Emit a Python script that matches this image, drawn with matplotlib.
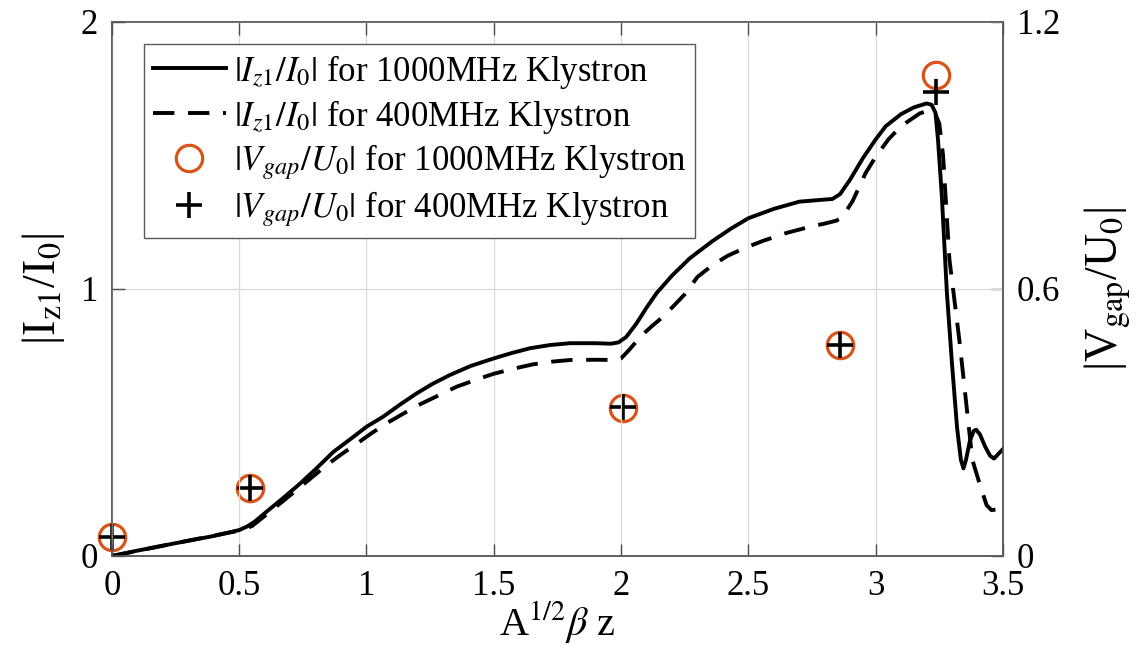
import numpy as np
import matplotlib
matplotlib.use('Agg')
import matplotlib.pyplot as plt

plt.rcParams['font.family'] = 'Liberation Serif'
plt.rcParams['mathtext.fontset'] = 'stix'

# |Iz1/I0| for 1000 MHz klystron (solid)
x_1000 = [0, 0.1, 0.25, 0.4, 0.5, 0.53, 0.56, 0.6, 0.67, 0.74, 0.8, 0.87, 0.94, 1.0, 1.066,
          1.13, 1.197, 1.26, 1.328, 1.41, 1.5, 1.57, 1.642, 1.72, 1.8, 1.9, 1.96, 1.99, 2.02,
          2.06, 2.1, 2.14, 2.2, 2.27, 2.36, 2.43, 2.5, 2.6, 2.7, 2.8, 2.83, 2.86, 2.9, 2.95,
          3.0, 3.04, 3.1, 3.15, 3.2, 3.22, 3.235, 3.245, 3.26, 3.28, 3.3, 3.32, 3.335, 3.345,
          3.355, 3.37, 3.385, 3.395, 3.41, 3.43, 3.45, 3.465, 3.48, 3.5]
i_1000 = [0, 0.02, 0.048, 0.075, 0.097, 0.11, 0.128, 0.16, 0.215, 0.272, 0.325, 0.39, 0.44, 0.484, 0.522,
          0.566, 0.609, 0.645, 0.678, 0.712, 0.74, 0.76, 0.778, 0.79, 0.797, 0.797, 0.795, 0.8, 0.82,
          0.87, 0.93, 0.985, 1.05, 1.115, 1.18, 1.225, 1.265, 1.30, 1.327, 1.335, 1.337, 1.355, 1.41, 1.49,
          1.56, 1.61, 1.655, 1.68, 1.695, 1.69, 1.66, 1.56, 1.35, 0.985, 0.72, 0.48, 0.36, 0.328,
          0.36, 0.43, 0.468, 0.473, 0.455, 0.41, 0.375, 0.365, 0.38, 0.40]

# |Iz1/I0| for 400 MHz klystron (dashed)
x_400 = [0, 0.25, 0.5, 0.55, 0.607, 0.665, 0.725, 0.78, 0.843, 0.9, 0.961, 1.02, 1.09, 1.197,
         1.28, 1.354, 1.43, 1.498, 1.58, 1.655, 1.73, 1.8, 1.9, 1.98, 2.0, 2.03, 2.08, 2.12,
         2.165, 2.21, 2.25, 2.3, 2.36, 2.42, 2.49, 2.557, 2.65, 2.75, 2.8, 2.846, 2.87, 2.91,
         2.96, 3.0, 3.05, 3.1, 3.174, 3.215, 3.235, 3.25, 3.265, 3.29, 3.33, 3.38, 3.41, 3.436,
         3.455, 3.475, 3.5]
i_400 = [0, 0.048, 0.095, 0.112, 0.155, 0.2, 0.247, 0.29, 0.34, 0.38, 0.42, 0.46, 0.503, 0.562,
         0.6, 0.634, 0.66, 0.682, 0.702, 0.718, 0.728, 0.734, 0.735, 0.734, 0.74, 0.77, 0.825, 0.86,
         0.896, 0.94, 0.98, 1.045, 1.09, 1.125, 1.155, 1.18, 1.21, 1.235, 1.245, 1.256, 1.27, 1.33,
         1.433, 1.495, 1.56, 1.61, 1.658, 1.67, 1.655, 1.62, 1.5, 1.11, 0.80, 0.36, 0.266, 0.19,
         0.172, 0.174, 0.2]

# |Vgap/U0| points (right axis)
x_gap = [0, 0.542, 2.008, 2.86, 3.239]
v_gap_1000 = [0.042, 0.152, 0.332, 0.474, 1.081]
v_gap_400 = [0.042, 0.152, 0.335, 0.474, 1.043]

xticks = [0, 0.5, 1, 1.5, 2, 2.5, 3, 3.5]
xtick_labels = ['0', '0.5', '1', '1.5', '2', '2.5', '3', '3.5']

fig = plt.figure(figsize=(11.42, 6.45), dpi=100)
ax = fig.add_axes([0.098, 0.138, 0.7802, 0.8279])
ax2 = ax.twinx()

l1, = ax.plot(x_1000, i_1000, color='k', lw=2.8, solid_joinstyle='round')
l2, = ax.plot(x_400, i_400, color='k', lw=2.8, linestyle=(0, (5.5, 3.5)))

m1, = ax2.plot(x_gap, v_gap_1000, linestyle='none', marker='o', ms=19, mfc='none',
               mec='#D95319', mew=2.3, clip_on=False, zorder=3)
m2, = ax2.plot(x_gap, v_gap_400, linestyle='none', marker='+', ms=19, color='k',
               mew=2.6, clip_on=False, zorder=4)

ax.set_xlim(0, 3.5)
ax.set_ylim(0, 2)
ax2.set_ylim(0, 1.2)
ax.set_xticks(xticks)
ax.set_xticklabels(xtick_labels)
ax.set_yticks([0, 1, 2])
ax2.set_yticks([0, 0.6, 1.2])
ax2.set_yticklabels(['0', '0.6', '1.2'])

ax.grid(True, color='#d9d9d9', lw=0.9)
ax.set_axisbelow(True)

ax.tick_params(axis='both', direction='in', length=9, width=1, labelsize=25,
               top=True, right=False, colors='0.3', labelcolor='k')
ax.tick_params(axis='x', pad=10)
ax.tick_params(axis='y', pad=10)
ax2.tick_params(axis='y', direction='in', length=9, width=1, labelsize=25,
                colors='0.3', labelcolor='k', pad=10)
for a in (ax, ax2):
    for s in a.spines.values():
        s.set_color('0.35')
        s.set_linewidth(1.1)

ax.set_xlabel(r'A$^{1/2}\beta$ z', fontsize=29, labelpad=-3)
ax.set_ylabel(r'|I$_{\mathrm{z1}}$/I$_{\mathrm{0}}$|', fontsize=33, labelpad=10)
ax2.set_ylabel(r'|V$_{\mathrm{gap}}$/U$_{\mathrm{0}}$|', fontsize=33, labelpad=16)

leg = ax.legend([l1, l2, m1, m2],
                [r'$|I_{z1}/I_0|$ for 1000MHz Klystron',
                 r'$|I_{z1}/I_0|$ for 400MHz Klystron',
                 r'$|V_{gap}/U_0|$ for 1000MHz Klystron',
                 r'$|V_{gap}/U_0|$ for 400MHz Klystron'],
                loc='upper left', bbox_to_anchor=(0.036, 0.959), borderaxespad=0,
                fontsize=25, handlelength=2.1, handletextpad=0.25, labelspacing=0.2,
                borderpad=0.25, fancybox=False, framealpha=1, edgecolor='0.35')
leg.get_frame().set_linewidth(1.0)
leg.set_zorder(10)
ax.set_zorder(ax2.get_zorder() + 1)
ax.patch.set_visible(False)

fig.savefig('out.png', dpi=100)
